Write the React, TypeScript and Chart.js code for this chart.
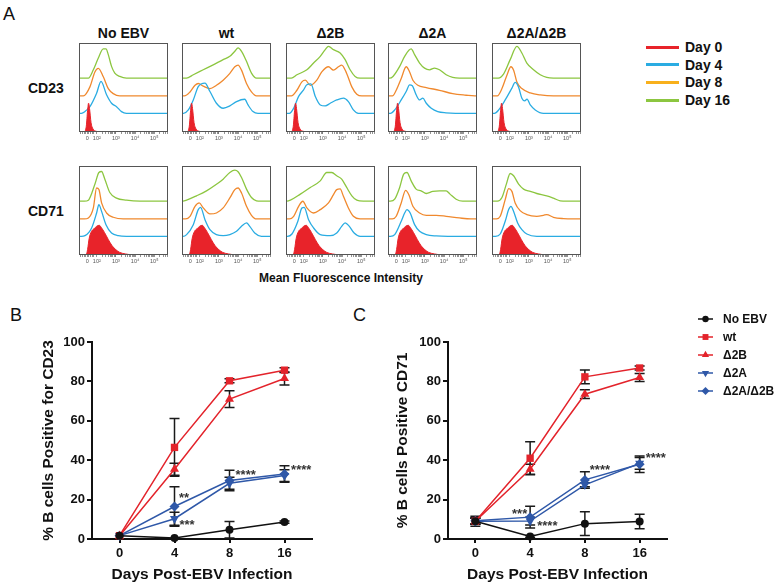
import React, { useEffect, useRef } from "react";
import { Chart, registerables } from "chart.js";
import { drawPoint } from "chart.js/helpers";

Chart.register(...registerables);

const FONT = "'Liberation Sans', Arial, Helvetica, sans-serif";

// ---------------- Panel A: flow cytometry histograms ----------------
const GROUPS = ["No EBV", "wt", "Δ2B", "Δ2A", "Δ2A/Δ2B"];
const MARKERS = ["CD23", "CD71"];
const DAY_LABELS = ["Day 0", "Day 4", "Day 8", "Day 16"];
// axis positions in "decades" (biexponential display): 0, 10^2 .. 10^5
const FACS_TICKS = [1.5, 2, 3, 4, 5];
const FACS_TICK_LABELS = ["0", "10²", "10³", "10⁴", "10⁵"];

// [position, % of panel height above the trace baseline]
const CD23_DAY0 = [[1.35, 0], [1.45, 6], [1.52, 24], [1.57, 32], [1.62, 26], [1.7, 10], [1.8, 3], [1.95, 0.5], [2.1, 0]];
const CD71_DAY0 = [[1.45, 0], [1.52, 6], [1.6, 18], [1.72, 26], [1.85, 29], [2.0, 32], [2.13, 33], [2.25, 30], [2.4, 25], [2.6, 17], [2.8, 10], [3.0, 5.5], [3.2, 2.5], [3.5, 0.8], [3.8, 0]];

const CD23_NOEBV_D4 = [[1.2, 0], [1.38, 2], [1.64, 7.5], [1.99, 22.6], [2.22, 35.8], [2.51, 20.8], [2.77, 11.3], [3.03, 7.5], [3.29, 1.9], [3.55, 0]];
const CD23_NOEBV_D8 = [[1.3, 0], [1.64, 10.2], [1.9, 27], [2.08, 31], [2.34, 21.5], [2.6, 8.3], [2.86, 2.6], [3.2, 0]];
const CD23_NOEBV_D16 = [[1.56, 0], [1.82, 9.4], [2.08, 22.6], [2.34, 32.8], [2.48, 32.8], [2.6, 26.4], [2.77, 13.2], [2.94, 5.7], [3.2, 1.9], [3.55, 0]];

const CD23_WT_D4 = [[1.15, 0], [1.4, 3.8], [1.66, 15], [1.92, 30], [2.27, 34], [2.53, 24.5], [2.87, 11.3], [3.22, 5.7], [3.57, 8.3], [3.92, 13.2], [4.35, 15.8], [4.52, 9.4], [4.78, 1.9], [5.04, 0]];
const CD23_WT_D8 = [[1.2, 0], [1.49, 4.5], [1.75, 12], [1.92, 14], [2.18, 11], [2.53, 8.3], [2.87, 12], [3.22, 17.7], [3.57, 25.3], [3.83, 32.8], [4.0, 34.7], [4.18, 29], [4.44, 14], [4.7, 4.5], [4.96, 0]];
const CD23_WT_D16 = [[1.3, 0], [1.66, 3.8], [2.18, 9.4], [2.7, 15], [3.22, 20.8], [3.57, 24.5], [3.83, 30.2], [4.0, 34], [4.18, 30.2], [4.44, 18.9], [4.7, 5.7], [4.96, 0]];

const CD23_D2B_D4 = [[1.25, 0], [1.47, 5.7], [1.73, 19], [1.99, 26.4], [2.16, 32], [2.37, 33], [2.6, 19], [2.86, 9.4], [3.12, 8.3], [3.38, 11.3], [3.72, 15], [4.07, 17], [4.33, 13.2], [4.59, 3.8], [4.85, 0]];
const CD23_D2B_D8 = [[1.35, 0], [1.64, 6.4], [1.9, 15.8], [2.08, 17.7], [2.34, 12], [2.68, 17.7], [2.94, 27], [3.29, 32.8], [3.55, 29], [3.81, 32.8], [3.98, 34.7], [4.24, 25.3], [4.51, 10.2], [4.77, 1.9], [5.03, 0]];
const CD23_D2B_D16 = [[1.35, 0], [1.64, 3.8], [2.16, 9.4], [2.51, 17], [2.86, 24.5], [3.12, 32], [3.29, 35.8], [3.55, 32], [3.9, 28.3], [4.16, 20.8], [4.42, 9.4], [4.68, 1.9], [4.94, 0]];

const CD23_D2A_D4 = [[1.2, 0], [1.42, 3.8], [1.76, 15], [2.02, 24.5], [2.2, 32], [2.34, 31], [2.54, 20.8], [2.72, 15], [2.89, 17], [3.07, 11.3], [3.33, 5.7], [3.67, 1.9], [4.1, 0.5], [4.6, 0]];
const CD23_D2A_D8 = [[1.3, 0], [1.5, 6.4], [1.76, 19.6], [2.02, 32.8], [2.2, 27], [2.37, 17.7], [2.63, 12], [3.07, 9.4], [3.76, 6.4], [4.45, 2.6], [5.15, 0.8], [5.6, 0]];
const CD23_D2A_D16 = [[1.15, 0], [1.33, 1.9], [1.68, 13.2], [1.94, 24.5], [2.28, 32.8], [2.46, 26.4], [2.72, 17], [2.98, 11.3], [3.24, 9.4], [3.5, 11.3], [3.76, 9.4], [4.11, 3.8], [4.45, 0.8], [4.8, 0]];

const CD23_D2A2B_D4 = [[1.2, 0], [1.42, 3.8], [1.76, 15], [2.11, 28.3], [2.28, 34.7], [2.46, 29.4], [2.63, 17], [2.78, 14], [2.9, 16], [3.07, 9.4], [3.33, 3.8], [3.76, 0]];
const CD23_D2A2B_D8 = [[1.35, 0], [1.59, 8.3], [1.85, 23.4], [2.06, 32.8], [2.2, 29], [2.37, 15.8], [2.63, 8.3], [3.07, 3.4], [3.59, 1.1], [4.28, 0]];
const CD23_D2A2B_D16 = [[1.4, 0], [1.68, 4.9], [2.02, 20.8], [2.37, 35.8], [2.63, 28.3], [2.89, 17], [3.24, 9.4], [3.59, 3.8], [3.93, 0.8], [4.28, 0]];

const CD71_NOEBV_D4 = [[1.2, 0], [1.38, 0.7], [1.73, 9.4], [1.99, 26.2], [2.11, 35.6], [2.25, 28], [2.48, 13.1], [2.77, 3.7], [3.12, 0.7], [3.55, 0]];
const CD71_NOEBV_D8 = [[1.35, 0], [1.56, 1.1], [1.82, 12.4], [1.99, 34.8], [2.11, 33], [2.25, 18], [2.51, 6.7], [2.86, 1.9], [3.38, 0]];
const CD71_NOEBV_D16 = [[1.35, 0], [1.56, 1.1], [1.9, 19], [2.11, 32.2], [2.25, 33.3], [2.42, 24.7], [2.68, 9.7], [3.03, 3.4], [3.55, 1.1], [4.25, 0]];

const CD71_WT_D4 = [[1.12, 0], [1.31, 1.9], [1.66, 13.1], [1.92, 30], [2.04, 32.6], [2.27, 18.7], [2.53, 7.5], [2.87, 1.9], [3.22, 0.7], [3.57, 1.9], [3.92, 5.6], [4.18, 11.2], [4.44, 15], [4.61, 11.2], [4.87, 3.7], [5.22, 0]];
const CD71_WT_D8 = [[1.25, 0], [1.49, 3], [1.75, 14.2], [1.97, 18], [2.18, 12.4], [2.53, 5.6], [2.87, 6.7], [3.22, 12.4], [3.57, 23.6], [3.83, 33], [4.0, 34.8], [4.18, 29.2], [4.44, 14.2], [4.7, 4.1], [4.96, 0]];
const CD71_WT_D16 = [[1.12, 0], [1.31, 1.1], [1.83, 6], [2.35, 11.6], [2.87, 19], [3.22, 24.7], [3.57, 32.2], [3.83, 34.8], [4.0, 33], [4.18, 26.6], [4.44, 13.5], [4.7, 4.1], [4.96, 0.4], [5.2, 0]];

const CD71_D2B_D4 = [[1.15, 0], [1.38, 2.6], [1.69, 16.9], [1.9, 31.8], [2.02, 32.6], [2.25, 18.7], [2.51, 9.4], [2.86, 1.9], [3.38, 0.7], [3.72, 3.7], [3.98, 11.2], [4.16, 15], [4.38, 11.2], [4.63, 3.7], [4.94, 0]];
const CD71_D2B_D8 = [[1.25, 0], [1.47, 3], [1.73, 14.2], [1.95, 19.9], [2.16, 12.4], [2.51, 6.7], [2.86, 10.5], [3.29, 18], [3.55, 27.3], [3.72, 33], [3.9, 33.7], [4.07, 25.5], [4.33, 12.4], [4.59, 3], [4.94, 0]];
const CD71_D2B_D16 = [[1.12, 0], [1.3, 1.1], [1.82, 7.9], [2.34, 15.4], [2.86, 22.8], [3.2, 32.2], [3.46, 32.2], [3.72, 28.5], [3.98, 24.7], [4.24, 15.4], [4.51, 6], [4.77, 1.1], [5.11, 0]];

const CD71_D2A_D4 = [[1.2, 0], [1.42, 1.9], [1.76, 16.9], [1.94, 26.2], [2.06, 30], [2.23, 26.2], [2.46, 13.1], [2.72, 5.6], [3.07, 1.9], [3.59, 0.4], [4.2, 0]];
const CD71_D2A_D8 = [[1.3, 0], [1.5, 3], [1.76, 18], [1.99, 32.2], [2.16, 27.3], [2.37, 14.2], [2.72, 6.7], [3.07, 4.1], [3.59, 4.1], [4.11, 3], [4.8, 1.1], [5.4, 0]];
const CD71_D2A_D16 = [[1.2, 0], [1.42, 2.2], [1.68, 15.4], [1.89, 30.3], [2.06, 32.2], [2.28, 22.8], [2.54, 13.5], [2.8, 11.6], [3.07, 8.6], [3.41, 10.9], [3.76, 11.6], [4.11, 11.6], [4.31, 7.9], [4.63, 2.2], [4.97, 0]];

const CD71_D2A2B_D4 = [[1.25, 0], [1.5, 2.6], [1.76, 16.9], [1.94, 30], [2.06, 33.7], [2.2, 28], [2.41, 15], [2.63, 7.5], [2.89, 2.6], [3.41, 0]];
const CD71_D2A2B_D8 = [[1.3, 0], [1.5, 3], [1.76, 21.7], [1.94, 34], [2.11, 31], [2.28, 18], [2.54, 9.4], [2.89, 4.9], [3.41, 3], [3.76, 4.1], [3.93, 4.9], [4.28, 1.9], [4.8, 0.4], [5.3, 0]];
const CD71_D2A2B_D16 = [[1.35, 0], [1.59, 4.1], [1.82, 19.1], [2.02, 31.1], [2.2, 28.5], [2.46, 19.1], [2.72, 13.5], [3.07, 10.9], [3.41, 8.6], [3.93, 6], [4.28, 3.4], [4.63, 0.4], [5.0, 0]];

const HIST_ROWS = [
  [
    [CD23_DAY0, CD23_NOEBV_D4, CD23_NOEBV_D8, CD23_NOEBV_D16],
    [CD23_DAY0, CD23_WT_D4, CD23_WT_D8, CD23_WT_D16],
    [CD23_DAY0, CD23_D2B_D4, CD23_D2B_D8, CD23_D2B_D16],
    [CD23_DAY0, CD23_D2A_D4, CD23_D2A_D8, CD23_D2A_D16],
    [CD23_DAY0, CD23_D2A2B_D4, CD23_D2A2B_D8, CD23_D2A2B_D16],
  ],
  [
    [CD71_DAY0, CD71_NOEBV_D4, CD71_NOEBV_D8, CD71_NOEBV_D16],
    [CD71_DAY0, CD71_WT_D4, CD71_WT_D8, CD71_WT_D16],
    [CD71_DAY0, CD71_D2B_D4, CD71_D2B_D8, CD71_D2B_D16],
    [CD71_DAY0, CD71_D2A_D4, CD71_D2A_D8, CD71_D2A_D16],
    [CD71_DAY0, CD71_D2A2B_D4, CD71_D2A2B_D8, CD71_D2A2B_D16],
  ],
];

// ---------------- Panels B / C: % positive cells ----------------
const DAYS = ["0", "4", "8", "16"];
const SERIES_NAMES = ["No EBV", "wt", "Δ2B", "Δ2A", "Δ2A/Δ2B"];

const CD23_NO_EBV = [1.7, 0.5, 4.7, 8.6];
const CD23_WT = [1.7, 46.5, 80.3, 85.7];
const CD23_D2B = [1.5, 35.4, 71.0, 81.5];
const CD23_D2A = [1.7, 10.3, 28.3, 32.2];
const CD23_D2A2B = [1.7, 16.5, 29.7, 33.0];
const CD23_NO_EBV_SEM = [0, 0, 4.2, 0.6];
const CD23_WT_SEM = [0, 14.7, 1.0, 1.2];
const CD23_D2B_SEM = [0, 3.0, 4.3, 3.3];
const CD23_D2A_SEM = [0, 3.3, 3.0, 3.0];
const CD23_D2A2B_SEM = [0, 10.0, 5.2, 4.2];
const CD23_STARS = [["**", 1.08, 22.4], ["***", 1.09, 8.9], ["****", 2.11, 34.2], ["****", 3.12, 36.7]];

const CD71_NO_EBV = [9.0, 1.3, 7.8, 8.9];
const CD71_WT = [9.0, 41.0, 82.3, 86.8];
const CD71_D2B = [9.0, 35.4, 73.5, 82.0];
const CD71_D2A = [9.0, 9.1, 27.5, 38.4];
const CD71_D2A2B = [9.3, 11.1, 30.0, 37.9];
const CD71_NO_EBV_SEM = [2.5, 0.5, 6.0, 3.7];
const CD71_WT_SEM = [1.5, 8.4, 3.5, 1.0];
const CD71_D2B_SEM = [1.5, 2.5, 2.2, 2.0];
const CD71_D2A_SEM = [1.5, 2.0, 1.0, 3.0];
const CD71_D2A2B_SEM = [1.5, 5.5, 4.2, 4.2];
const CD71_STARS = [["***", 0.67, 14.5], ["****", 1.13, 8.4], ["****", 2.09, 36.7], ["****", 3.11, 43.0]];

// ---------------- styles ----------------
const DAY_COLORS = ["#e8232a", "#2aace2", "#f0892e", "#8cc640"];
const DAY_LEGEND_COLORS = ["#e8232a", "#2aace2", "#f8b01c", "#8cc640"];
const TRACE_OFFSETS = [0.004, 0.21, 0.405, 0.605];
const X_MIN = 1.07;
const X_MAX = 5.72;
const BOX_LEFTS = [79, 182, 286, 388, 492];
const BOX_TOPS = [43, 166];
const BOX = 89;

const SERIES_COLORS = ["#111111", "#e3232b", "#e3232b", "#2f58a8", "#2f58a8"];
const SERIES_POINTS = ["circle", "rect", "triangle", "triangle", "rectRot"];
const SERIES_ROT = [0, 0, 0, 180, 0];
const SERIES_RADIUS = [4, 5.2, 5.2, 5.2, 5];

function facsTicks() {
  const v: number[] = [...FACS_TICKS, 1.15, 1.25, 1.35, 1.42, 1.58, 1.66, 1.75, 1.84];
  for (let d = 2; d <= 4; d++) for (let k = 2; k <= 9; k++) v.push(d + Math.log10(k));
  v.push(5 + Math.log10(2), 5 + Math.log10(3), 5 + Math.log10(4), 5 + Math.log10(5));
  return v.sort((a, b) => a - b);
}

const boxPlugin = {
  id: "facsBox",
  afterDraw(chart: any) {
    const { ctx, chartArea: a } = chart;
    ctx.save();
    ctx.strokeStyle = "#555";
    ctx.lineWidth = 1;
    ctx.strokeRect(a.left + 0.5, a.top + 0.5, a.right - a.left - 1, a.bottom - a.top - 1);
    ctx.restore();
  },
};

function histConfig(curves: number[][][]) {
  return {
    type: "line",
    data: {
      datasets: curves.map((pts, i) => ({
        data: [
          { x: X_MIN, y: TRACE_OFFSETS[i] },
          ...pts.map(([x, y]) => ({ x, y: TRACE_OFFSETS[i] + y / 100 })),
          { x: X_MAX, y: TRACE_OFFSETS[i] },
        ],
        borderColor: DAY_COLORS[i],
        backgroundColor: DAY_COLORS[i],
        borderWidth: i === 0 ? 1 : 1.3,
        pointRadius: 0,
        cubicInterpolationMode: "monotone",
        fill: i === 0 ? "origin" : false,
      })),
    },
    options: {
      animation: false,
      responsive: false,
      devicePixelRatio: 1,
      layout: { padding: { left: 2, right: 2, top: 2, bottom: 0 } },
      plugins: { legend: { display: false }, tooltip: { enabled: false } },
      scales: {
        x: {
          type: "linear",
          min: X_MIN,
          max: X_MAX,
          afterBuildTicks: (s: any) => {
            s.ticks = facsTicks().map((value) => ({ value }));
          },
          afterFit: (s: any) => {
            s.height = 14;
          },
          ticks: {
            autoSkip: false,
            maxRotation: 0,
            minRotation: 0,
            padding: 1,
            color: "#555",
            font: { size: 5.5, family: FONT },
            callback: (v: number) => {
              const i = FACS_TICKS.findIndex((t) => Math.abs(t - v) < 1e-6);
              return i >= 0 ? FACS_TICK_LABELS[i] : "";
            },
          },
          grid: { drawOnChartArea: false, drawTicks: true, tickLength: 2, color: "#777", lineWidth: 0.8 },
          border: { display: false },
        },
        y: { display: false, min: 0, max: 1 },
      },
    },
    plugins: [boxPlugin],
  };
}

const errorBarPlugin = {
  id: "errorBars",
  beforeDatasetsDraw(chart: any) {
    const { ctx, scales } = chart;
    const x = scales.x;
    const y = scales.y;
    ctx.save();
    ctx.strokeStyle = "#1a1a1a";
    ctx.lineWidth = 1.5;
    chart.data.datasets.forEach((ds: any) => {
      const errs = ds.errors as number[];
      ds.data.forEach((v: number, j: number) => {
        const e = errs[j];
        if (!e) return;
        const px = x.getPixelForValue(j);
        const t = y.getPixelForValue(v + e);
        const b = y.getPixelForValue(Math.max(0, v - e));
        ctx.beginPath();
        ctx.moveTo(px, t);
        ctx.lineTo(px, b);
        ctx.moveTo(px - 5, t);
        ctx.lineTo(px + 5, t);
        ctx.moveTo(px - 5, b);
        ctx.lineTo(px + 5, b);
        ctx.stroke();
      });
    });
    ctx.restore();
  },
};

const starPlugin = {
  id: "stars",
  afterDatasetsDraw(chart: any, _args: any, opts: any) {
    const { ctx, scales } = chart;
    const fs = 13;
    ctx.save();
    ctx.fillStyle = "#333";
    ctx.font = `bold ${fs}px ${FONT}`;
    ctx.textAlign = "left";
    ctx.textBaseline = "alphabetic";
    (opts.items || []).forEach(([t, xv, yv]: any) => {
      const px = scales.x.getPixelForValue(xv);
      const py = scales.y.getPixelForValue(yv) + 0.57 * fs;
      ctx.fillText(t, px, py);
    });
    ctx.restore();
  },
};

const seriesLegendPlugin = {
  id: "seriesLegend",
  afterDraw(chart: any, _args: any, opts: any) {
    if (!opts.show) return;
    const { ctx } = chart;
    ctx.save();
    SERIES_NAMES.forEach((name, i) => {
      const y = opts.y + i * 18;
      ctx.strokeStyle = SERIES_COLORS[i];
      ctx.fillStyle = SERIES_COLORS[i];
      ctx.lineWidth = 1.5;
      ctx.beginPath();
      ctx.moveTo(opts.x, y);
      ctx.lineTo(opts.x + 15, y);
      ctx.stroke();
      drawPoint(ctx, { pointStyle: SERIES_POINTS[i], rotation: SERIES_ROT[i], radius: SERIES_RADIUS[i] * 0.8, borderWidth: 0 } as any, opts.x + 7.5, y);
      ctx.fillStyle = "#111";
      ctx.font = `bold 12px ${FONT}`;
      ctx.textAlign = "left";
      ctx.textBaseline = "middle";
      ctx.fillText(name, opts.x + 25, y + 0.5);
    });
    ctx.restore();
  },
};

function lineConfig(p: {
  values: number[][];
  errors: number[][];
  yTitle: string;
  yWidth: number;
  yTitlePad: number;
  padRight: number;
  stars: any[];
  legend: boolean;
}) {
  const axisColor = "#111";
  const tickFont = { size: 13, weight: "bold", family: FONT };
  return {
    type: "line",
    data: {
      labels: DAYS,
      datasets: p.values.map((vals, i) => ({
        label: SERIES_NAMES[i],
        data: vals,
        errors: p.errors[i],
        borderColor: SERIES_COLORS[i],
        backgroundColor: SERIES_COLORS[i],
        pointBackgroundColor: SERIES_COLORS[i],
        pointBorderColor: SERIES_COLORS[i],
        pointStyle: SERIES_POINTS[i],
        pointRotation: SERIES_ROT[i],
        pointRadius: SERIES_RADIUS[i],
        pointBorderWidth: 0,
        borderWidth: 1.5,
        tension: 0,
        clip: false,
      })),
    },
    options: {
      animation: false,
      responsive: false,
      devicePixelRatio: 1,
      layout: { padding: { left: 0, top: 42, right: p.padRight, bottom: 0 } },
      plugins: {
        legend: { display: false },
        tooltip: { enabled: false },
        stars: { items: p.stars },
        seriesLegend: { show: p.legend, x: 328, y: 19 },
      },
      scales: {
        x: {
          type: "category",
          offset: true,
          afterFit: (s: any) => {
            s.height = 48;
          },
          grid: { offset: false, drawOnChartArea: false, drawTicks: true, tickLength: 4, color: axisColor, lineWidth: 2 },
          border: { display: true, color: axisColor, width: 2 },
          ticks: { color: axisColor, font: tickFont, padding: 3, maxRotation: 0 },
          title: {
            display: true,
            text: "Days Post-EBV Infection",
            color: axisColor,
            font: { size: 15.5, weight: "bold", family: FONT },
            padding: { top: 0, bottom: 3 },
          },
        },
        y: {
          min: 0,
          max: 100,
          afterFit: (s: any) => {
            s.width = p.yWidth;
          },
          grid: { drawOnChartArea: false, drawTicks: true, tickLength: 5, color: axisColor, lineWidth: 2 },
          border: { display: true, color: axisColor, width: 2 },
          ticks: { stepSize: 20, color: axisColor, font: tickFont, padding: 2 },
          title: {
            display: true,
            text: p.yTitle,
            color: axisColor,
            font: { size: 15.5, weight: "bold", family: FONT },
            padding: { top: p.yTitlePad, bottom: 0 },
          },
        },
      },
    },
    plugins: [errorBarPlugin, starPlugin, seriesLegendPlugin],
  };
}

function ChartCanvas({ left, top, width, height, config }: any) {
  const ref = useRef<HTMLCanvasElement>(null);
  useEffect(() => {
    const chart = new Chart(ref.current as HTMLCanvasElement, config);
    return () => chart.destroy();
  }, []);
  return (
    <canvas
      ref={ref}
      width={width}
      height={height}
      style={{ position: "absolute", left, top, width, height }}
    />
  );
}

function Text({ x, y, children, size = 14, weight = "bold", center = true }: any) {
  return (
    <div
      style={{
        position: "absolute",
        left: x,
        top: y,
        transform: center ? "translate(-50%, -50%)" : "translate(0, -50%)",
        font: `${weight} ${size}px ${FONT}`,
        lineHeight: 1,
        whiteSpace: "nowrap",
        color: "#111",
      }}
    >
      {children}
    </div>
  );
}

export default function App() {
  return (
    <div
      style={{
        position: "fixed",
        left: 0,
        top: 0,
        width: 776,
        height: 587,
        background: "#fff",
        overflow: "hidden",
      }}
    >
      <Text x={3} y={14} size={18} weight="normal" center={false}>A</Text>
      <Text x={10} y={315} size={18} weight="normal" center={false}>B</Text>
      <Text x={353} y={315} size={18} weight="normal" center={false}>C</Text>

      {GROUPS.map((g, i) => (
        <Text key={g} x={BOX_LEFTS[i] + BOX / 2} y={33}>{g}</Text>
      ))}
      {MARKERS.map((m, r) => (
        <Text key={m} x={28} y={BOX_TOPS[r] + 45} center={false}>{m}</Text>
      ))}
      {HIST_ROWS.map((row, r) =>
        row.map((curves, c) => (
          <ChartCanvas
            key={`${r}-${c}`}
            left={BOX_LEFTS[c] - 2}
            top={BOX_TOPS[r] - 2}
            width={BOX + 4}
            height={BOX + 16}
            config={histConfig(curves)}
          />
        ))
      )}
      <Text x={341} y={278} size={12}>Mean Fluorescence Intensity</Text>

      {DAY_LABELS.map((d, i) => (
        <React.Fragment key={d}>
          <div
            style={{
              position: "absolute",
              left: 646,
              top: 47 + i * 17.7 - 1.5,
              width: 33,
              height: 3,
              background: DAY_LEGEND_COLORS[i],
            }}
          />
          <Text x={685} y={47 + i * 17.7} center={false}>{d}</Text>
        </React.Fragment>
      ))}

      <ChartCanvas
        left={0}
        top={300}
        width={370}
        height={287}
        config={lineConfig({
          values: [CD23_NO_EBV, CD23_WT, CD23_D2B, CD23_D2A, CD23_D2A2B],
          errors: [CD23_NO_EBV_SEM, CD23_WT_SEM, CD23_D2B_SEM, CD23_D2A_SEM, CD23_D2A2B_SEM],
          yTitle: "% B cells Positive for CD23",
          yWidth: 92,
          yTitlePad: 39,
          padRight: 58,
          stars: CD23_STARS,
          legend: false,
        })}
      />
      <ChartCanvas
        left={370}
        top={300}
        width={406}
        height={287}
        config={lineConfig({
          values: [CD71_NO_EBV, CD71_WT, CD71_D2B, CD71_D2A, CD71_D2A2B],
          errors: [CD71_NO_EBV_SEM, CD71_WT_SEM, CD71_D2B_SEM, CD71_D2A_SEM, CD71_D2A2B_SEM],
          yTitle: "% B cells Positive CD71",
          yWidth: 78,
          yTitlePad: 23,
          padRight: 109,
          stars: CD71_STARS,
          legend: true,
        })}
      />
    </div>
  );
}
